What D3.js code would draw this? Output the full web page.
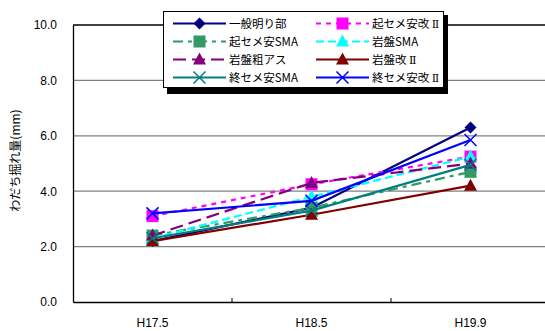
<!DOCTYPE html>
<html><head><meta charset="utf-8">
<script src="https://cdn.jsdelivr.net/npm/d3@7"></script>
<style>body{margin:0;background:#fff}svg{display:block}</style>
</head><body><svg id="c" width="545" height="331"></svg>
<script>
const categories = ["H17.5", "H18.5", "H19.9"];
const yTicks = [0, 2, 4, 6, 8, 10];
const seriesNames = ["一般明り部", "起セメ安改 Ⅱ", "起セメ安SMA", "岩盤SMA", "岩盤粗アス", "岩盤改 Ⅱ", "終セメ安SMA", "終セメ安改 Ⅱ"];
const s1 = [2.2, 3.4, 6.3];
const s2 = [3.1, 4.25, 5.25];
const s3 = [2.4, 3.4, 4.7];
const s4 = [2.3, 3.8, 5.25];
const s5 = [2.4, 4.3, 5.0];
const s6 = [2.2, 3.15, 4.2];
const s7 = [2.3, 3.3, 4.95];
const s8 = [3.2, 3.65, 5.85];
const seriesValues = [s1, s2, s3, s4, s5, s6, s7, s8];
const colors = ["#000080", "#FF00FF", "#339966", "#00FFFF", "#800080", "#800000", "#008080", "#0000FF"];
const dashes = [null, "5,5", "10,5,4,5", "8,4", "13,6", null, null, null];
const markers = ["diamond", "square", "square", "triangle", "triangle", "triangle", "x", "x"];

const svg = d3.select("#c");
const L = 73, R = 550, T = 25, B = 302;
const x = d3.scaleBand().domain(categories).range([L, R]);
const y = d3.scaleLinear().domain([0, 10]).range([B, T]);
const num = "'Liberation Sans', Arial, sans-serif";
const jp = "'Noto Sans CJK JP', sans-serif";

// gridlines
svg.append("g").selectAll("line").data(yTicks.filter(d => d > 0 && d < 10)).join("line")
  .attr("x1", L).attr("x2", R).attr("y1", d => y(d)).attr("y2", d => y(d))
  .attr("stroke", "#808080").attr("stroke-width", 1.3);
svg.append("line").attr("x1", L).attr("x2", R).attr("y1", y(10)).attr("y2", y(10)).attr("stroke", "#000").attr("stroke-width", 1.3);

// y axis
const ya = svg.append("g").attr("transform", `translate(${L},0)`)
  .call(d3.axisLeft(y).tickValues(yTicks).tickFormat(d3.format(".1f")).tickSize(0).tickPadding(16));
ya.select(".domain").attr("stroke", "#000").attr("stroke-width", 1.3);
ya.selectAll("text").attr("font-family", num).attr("font-size", 12).attr("fill", "#000");

// x axis
const xa = svg.append("g").attr("transform", `translate(0,${B})`)
  .call(d3.axisBottom(x).tickSize(0).tickPadding(16));
xa.select(".domain").attr("stroke", "#000").attr("stroke-width", 1.3);
xa.selectAll("text").attr("font-family", num).attr("font-size", 12).attr("fill", "#000");
svg.append("g").selectAll("line").data(categories.slice(1)).join("line")
  .attr("x1", d => x(d)).attr("x2", d => x(d)).attr("y1", B).attr("y2", B - 4)
  .attr("stroke", "#000").attr("stroke-width", 1);

// y title
svg.append("text").attr("transform", `translate(20,${(T + B) / 2 - 3}) rotate(-90)`)
  .attr("text-anchor", "middle").attr("font-family", jp).attr("font-size", 12).text("わだち掘れ量(mm)");

function marker(g, type, cx, cy, color) {
  if (type === "diamond") {
    g.append("path").attr("d", `M${cx},${cy-6}L${cx+6},${cy}L${cx},${cy+6}L${cx-6},${cy}Z`).attr("fill", color);
  } else if (type === "square") {
    g.append("rect").attr("x", cx - 6).attr("y", cy - 6).attr("width", 12).attr("height", 12).attr("fill", color);
  } else if (type === "triangle") {
    g.append("path").attr("d", `M${cx},${cy-7}L${cx+6.5},${cy+5}L${cx-6.5},${cy+5}Z`).attr("fill", color);
  } else {
    g.append("path").attr("d", `M${cx-6},${cy-6}L${cx+6},${cy+6}M${cx+6},${cy-6}L${cx-6},${cy+6}`)
      .attr("stroke", color).attr("stroke-width", 1.5).attr("fill", "none");
  }
}

const line = d3.line().x((d, i) => x(categories[i]) + x.bandwidth() / 2).y(d => y(d));
seriesValues.forEach((vals, k) => {
  const g = svg.append("g");
  g.append("path").attr("d", line(vals)).attr("fill", "none").attr("stroke", colors[k])
    .attr("stroke-width", 2.2).attr("stroke-dasharray", dashes[k]);
  vals.forEach((v, i) => marker(g, markers[k], x(categories[i]) + x.bandwidth() / 2, y(v), colors[k]));
});

// legend
const lg = svg.append("g");
lg.append("rect").attr("x", 167).attr("y", 15).attr("width", 281).attr("height", 79).attr("fill", "#000");
lg.append("rect").attr("x", 163.5).attr("y", 11.5).attr("width", 280).attr("height", 76).attr("fill", "#fff").attr("stroke", "#000").attr("stroke-width", 1);
seriesNames.forEach((name, k) => {
  const col = k % 2, row = Math.floor(k / 2);
  const x0 = col === 0 ? 173 : 316, x1 = x0 + 53, cy = 23.5 + row * 18;
  lg.append("line").attr("x1", x0).attr("x2", x1).attr("y1", cy).attr("y2", cy)
    .attr("stroke", colors[k]).attr("stroke-width", 2.2).attr("stroke-dasharray", dashes[k]);
  marker(lg, markers[k], (x0 + x1) / 2, cy, colors[k]);
  const t = lg.append("text").attr("x", x1 + 3).attr("y", cy + 4.5).attr("font-family", jp).attr("font-size", 11.5);
  const parts = name.split("Ⅱ");
  t.append("tspan").text(parts[0]);
  if (parts.length > 1) t.append("tspan").attr("font-family", "'DejaVu Serif', 'Liberation Serif', serif").attr("font-size", 11).text("Ⅱ");
});
</script></body></html>
